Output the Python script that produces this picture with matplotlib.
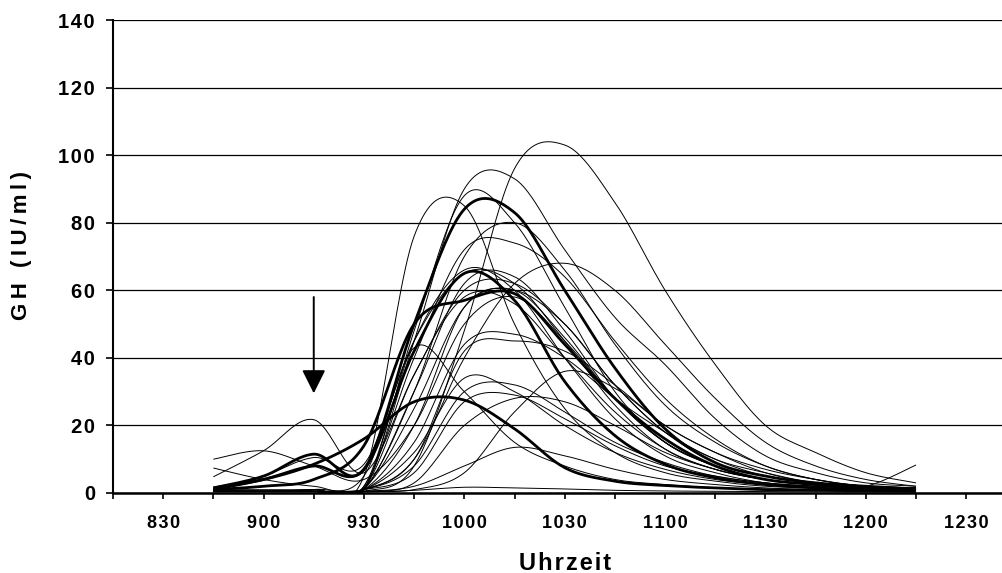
import numpy as np
import matplotlib
matplotlib.use("Agg")
import matplotlib.pyplot as plt

# ---------------- data ----------------
# sampling times in minutes after midnight (8:45 ... 12:15, every 15 min)
times_min = [525, 540, 555, 570, 585, 600, 615, 630, 645, 660, 675, 690, 705, 720, 735]

# thick curves (GH, IU/ml)
gh_t1 = [1.5, 5, 11.5, 7, 50, 84, 83, 60, 37, 19, 9, 5, 3, 2, 1.2]
gh_t2 = [1, 4, 8, 7, 42, 65, 57, 33, 17, 8.5, 4.5, 2.5, 1.5, 1, 0.8]
gh_t3 = [1, 2, 4, 14, 50, 57, 59, 44, 28, 16, 8, 4, 2.5, 1.5, 1]
gh_t4 = [1.5, 4, 8.5, 16, 27, 27.5, 19, 7.5, 3.5, 2.2, 1.5, 1, 0.8, 0.6, 0.5]

# thin curves
gh_a = [0.5, 0.5, 0.5, 0.5, 8, 48, 96, 103, 86, 60, 38, 20, 12, 6, 3]
gh_b = [0.5, 0.5, 0.5, 1, 45, 90, 93, 72, 52, 38, 22, 11, 6, 3, 2]
gh_c = [0.5, 0.5, 0.5, 1, 48, 88, 80, 55, 30, 15, 8, 4, 2.5, 1.5, 1]
gh_d = [0.5, 0.5, 1, 5, 76, 85, 50, 25, 12, 6, 3.5, 2, 1.5, 1, 0.8]
gh_e = [0.5, 0.5, 1, 1.5, 30, 70, 80, 66, 44, 26, 15, 8, 4, 2, 1.5]
gh_f = [0.5, 0.5, 1, 2, 40, 72, 74, 64, 45, 28, 16, 8, 4, 2, 1.5]
gh_g = [0.5, 0.5, 0.5, 1, 10, 40, 62, 68, 60, 44, 28, 15, 8, 4, 2]
gh_h = [0.5, 0.5, 1, 2, 45, 66, 60, 40, 22, 11, 6, 3, 2, 2, 8.3]
gh_i = [0.5, 0.5, 0.5, 1, 30, 62, 64, 48, 28, 15, 8, 4, 2.5, 1.5, 1]
gh_j = [0.5, 0.5, 0.5, 1, 20, 55, 60, 50, 32, 18, 9, 5, 3, 2, 1]
gh_k = [1, 1, 1, 1.5, 35, 58, 56, 40, 24, 13, 7, 4, 2.5, 1.5, 1]
gh_l = [0.5, 0.5, 0.5, 1, 15, 44, 47, 40, 28, 18, 10, 6, 3, 2, 1.5]
gh_m = [0.5, 0.5, 0.5, 1, 10, 42, 45, 42, 32, 20, 12, 6, 3, 2, 1.5]
gh_n = [0.5, 0.5, 1, 5, 43, 30, 15, 8, 4, 2.5, 1.5, 1, 0.8, 0.6, 0.5]
gh_o = [0.5, 0.5, 0.5, 1, 12, 34, 30, 20, 12, 7, 4, 2.5, 1.5, 1, 0.8]
gh_p = [0.5, 0.5, 0.5, 1, 8, 30, 32, 24, 15, 9, 5, 3, 2, 1.5, 1]
gh_q = [0.5, 0.5, 0.5, 1, 6, 27, 29, 22, 14, 8, 5, 3, 2, 1.5, 1]
gh_r = [0.5, 0.5, 0.5, 0.5, 3, 20, 28, 27, 20, 12, 7, 4, 2.5, 1.5, 1]
gh_s = [0.5, 0.5, 0.5, 0.5, 1, 6, 24, 36, 31, 20, 12, 7, 4, 2, 1.5]
gh_t = [0.5, 0.5, 0.5, 0.5, 2, 8, 13.5, 11, 7, 4, 2.5, 1.5, 1, 0.8, 0.5]
gh_u = [0.3, 0.3, 0.3, 0.3, 0.8, 1.7, 1.5, 1.2, 0.8, 0.6, 0.5, 0.4, 0.3, 0.3, 0.3]
gh_v = [10, 12.5, 8, 4, 20, 50, 58, 45, 28, 15, 8, 4, 2.5, 1.5, 1]
gh_w = [4.8, 12.5, 21.7, 6, 35, 60, 62, 50, 32, 18, 10, 5, 3, 2, 1.5]
gh_x = [7.4, 4, 2, 1.5, 25, 55, 60, 46, 28, 15, 8, 4, 2.5, 1.5, 1]
gh_y = [1, 5, 10.5, 8.5, 45, 65, 62, 45, 26, 13, 7, 4, 2.5, 1.5, 1]

thick_series = [gh_t1, gh_t2, gh_t3, gh_t4]
thin_series = [gh_a, gh_b, gh_c, gh_d, gh_e, gh_f, gh_g, gh_h, gh_i, gh_j, gh_k,
               gh_l, gh_m, gh_n, gh_o, gh_p, gh_q, gh_r, gh_s, gh_t, gh_u,
               gh_v, gh_w, gh_x, gh_y]

# axis ticks (minutes) and labels
tick_minutes = list(range(495, 751, 15))
label_minutes = [510, 540, 570, 600, 630, 660, 690, 720, 750]
label_texts = ["830", "900", "930", "1000", "1030", "1100", "1130", "1200", "1230"]
y_ticks = [0, 20, 40, 60, 80, 100, 120, 140]

arrow_time = 555
arrow_from, arrow_to = 58, 29.5


# ---------------- helpers ----------------
def smooth(xs, ys, n=24):
    """Excel-like smoothed line (Catmull-Rom Bezier)."""
    xs = np.asarray(xs, float)
    ys = np.asarray(ys, float)
    N = len(xs)
    px = np.concatenate([[xs[0]], xs, [xs[-1]]])
    py = np.concatenate([[ys[0]], ys, [ys[-1]]])
    ox, oy = [], []
    tt = np.linspace(0, 1, n)
    for i in range(N - 1):
        k = i + 1
        p0x, p1x = px[k], px[k + 1]
        p0y, p1y = py[k], py[k + 1]
        c1x = p0x + (px[k + 1] - px[k - 1]) / 6
        c1y = p0y + (py[k + 1] - py[k - 1]) / 6
        c2x = p1x - (px[k + 2] - px[k]) / 6
        c2y = p1y - (py[k + 2] - py[k]) / 6
        b0 = (1 - tt) ** 3
        b1 = 3 * (1 - tt) ** 2 * tt
        b2 = 3 * (1 - tt) * tt ** 2
        b3 = tt ** 3
        ox.append(b0 * p0x + b1 * c1x + b2 * c2x + b3 * p1x)
        oy.append(b0 * p0y + b1 * c1y + b2 * c2y + b3 * p1y)
    return np.concatenate(ox), np.concatenate(oy)


def spaced(s, sep="\u200a"):
    return sep.join(s)


# ---------------- figure ----------------
plt.rcParams["font.family"] = ["Liberation Sans", "DejaVu Sans"]
plt.rcParams["font.weight"] = "bold"

fig = plt.figure(figsize=(10.03, 5.73), dpi=100)
ax = fig.add_axes([113 / 1003, 80 / 573, 890 / 1003, 473 / 573])

for ys in thin_series:
    sx, sy = smooth(times_min, ys)
    ax.plot(sx, sy, color="black", lw=0.7, solid_capstyle="butt", zorder=3)
for ys in thick_series:
    sx, sy = smooth(times_min, ys)
    ax.plot(sx, sy, color="black", lw=2.0, solid_capstyle="butt", zorder=4)

ax.set_xlim(495, 761)
ax.set_ylim(0, 140)

ax.set_yticks(y_ticks)
ax.set_yticklabels([spaced(str(v)) for v in y_ticks], fontsize=14.5, fontweight="bold")
ax.set_xticks(tick_minutes)
xl = []
for m in tick_minutes:
    xl.append(spaced(label_texts[label_minutes.index(m)]) if m in label_minutes else "")
ax.set_xticklabels(xl, fontsize=13, fontweight="bold")

ax.tick_params(axis="y", direction="out", length=5, width=1.2, pad=8)
ax.tick_params(axis="x", direction="out", length=4.5, width=1.2, pad=11)

ax.yaxis.grid(True, color="black", lw=0.9)
ax.set_axisbelow(True)
for side in ["top", "right"]:
    ax.spines[side].set_visible(False)
ax.spines["left"].set_linewidth(1.5)
ax.spines["bottom"].set_linewidth(1.8)
ax.spines["bottom"].set_zorder(5)

ax.annotate("", xy=(arrow_time, arrow_to), xytext=(arrow_time, arrow_from),
            arrowprops=dict(arrowstyle="-|>,head_length=0.6,head_width=0.3",
                            lw=1.4, color="black", mutation_scale=24,
                            shrinkA=0, shrinkB=0), zorder=6)

fig.text(22 / 1003, 1 - 245 / 573, spaced("GH (IU/ml)", "\u2009"), rotation=90,
         ha="center", va="center", fontsize=16, fontweight="bold")
fig.text(565 / 1003, 1 - 563 / 573, spaced("Uhrzeit"),
         ha="center", va="center", fontsize=17, fontweight="bold")

fig.savefig("out.png", dpi=100)
